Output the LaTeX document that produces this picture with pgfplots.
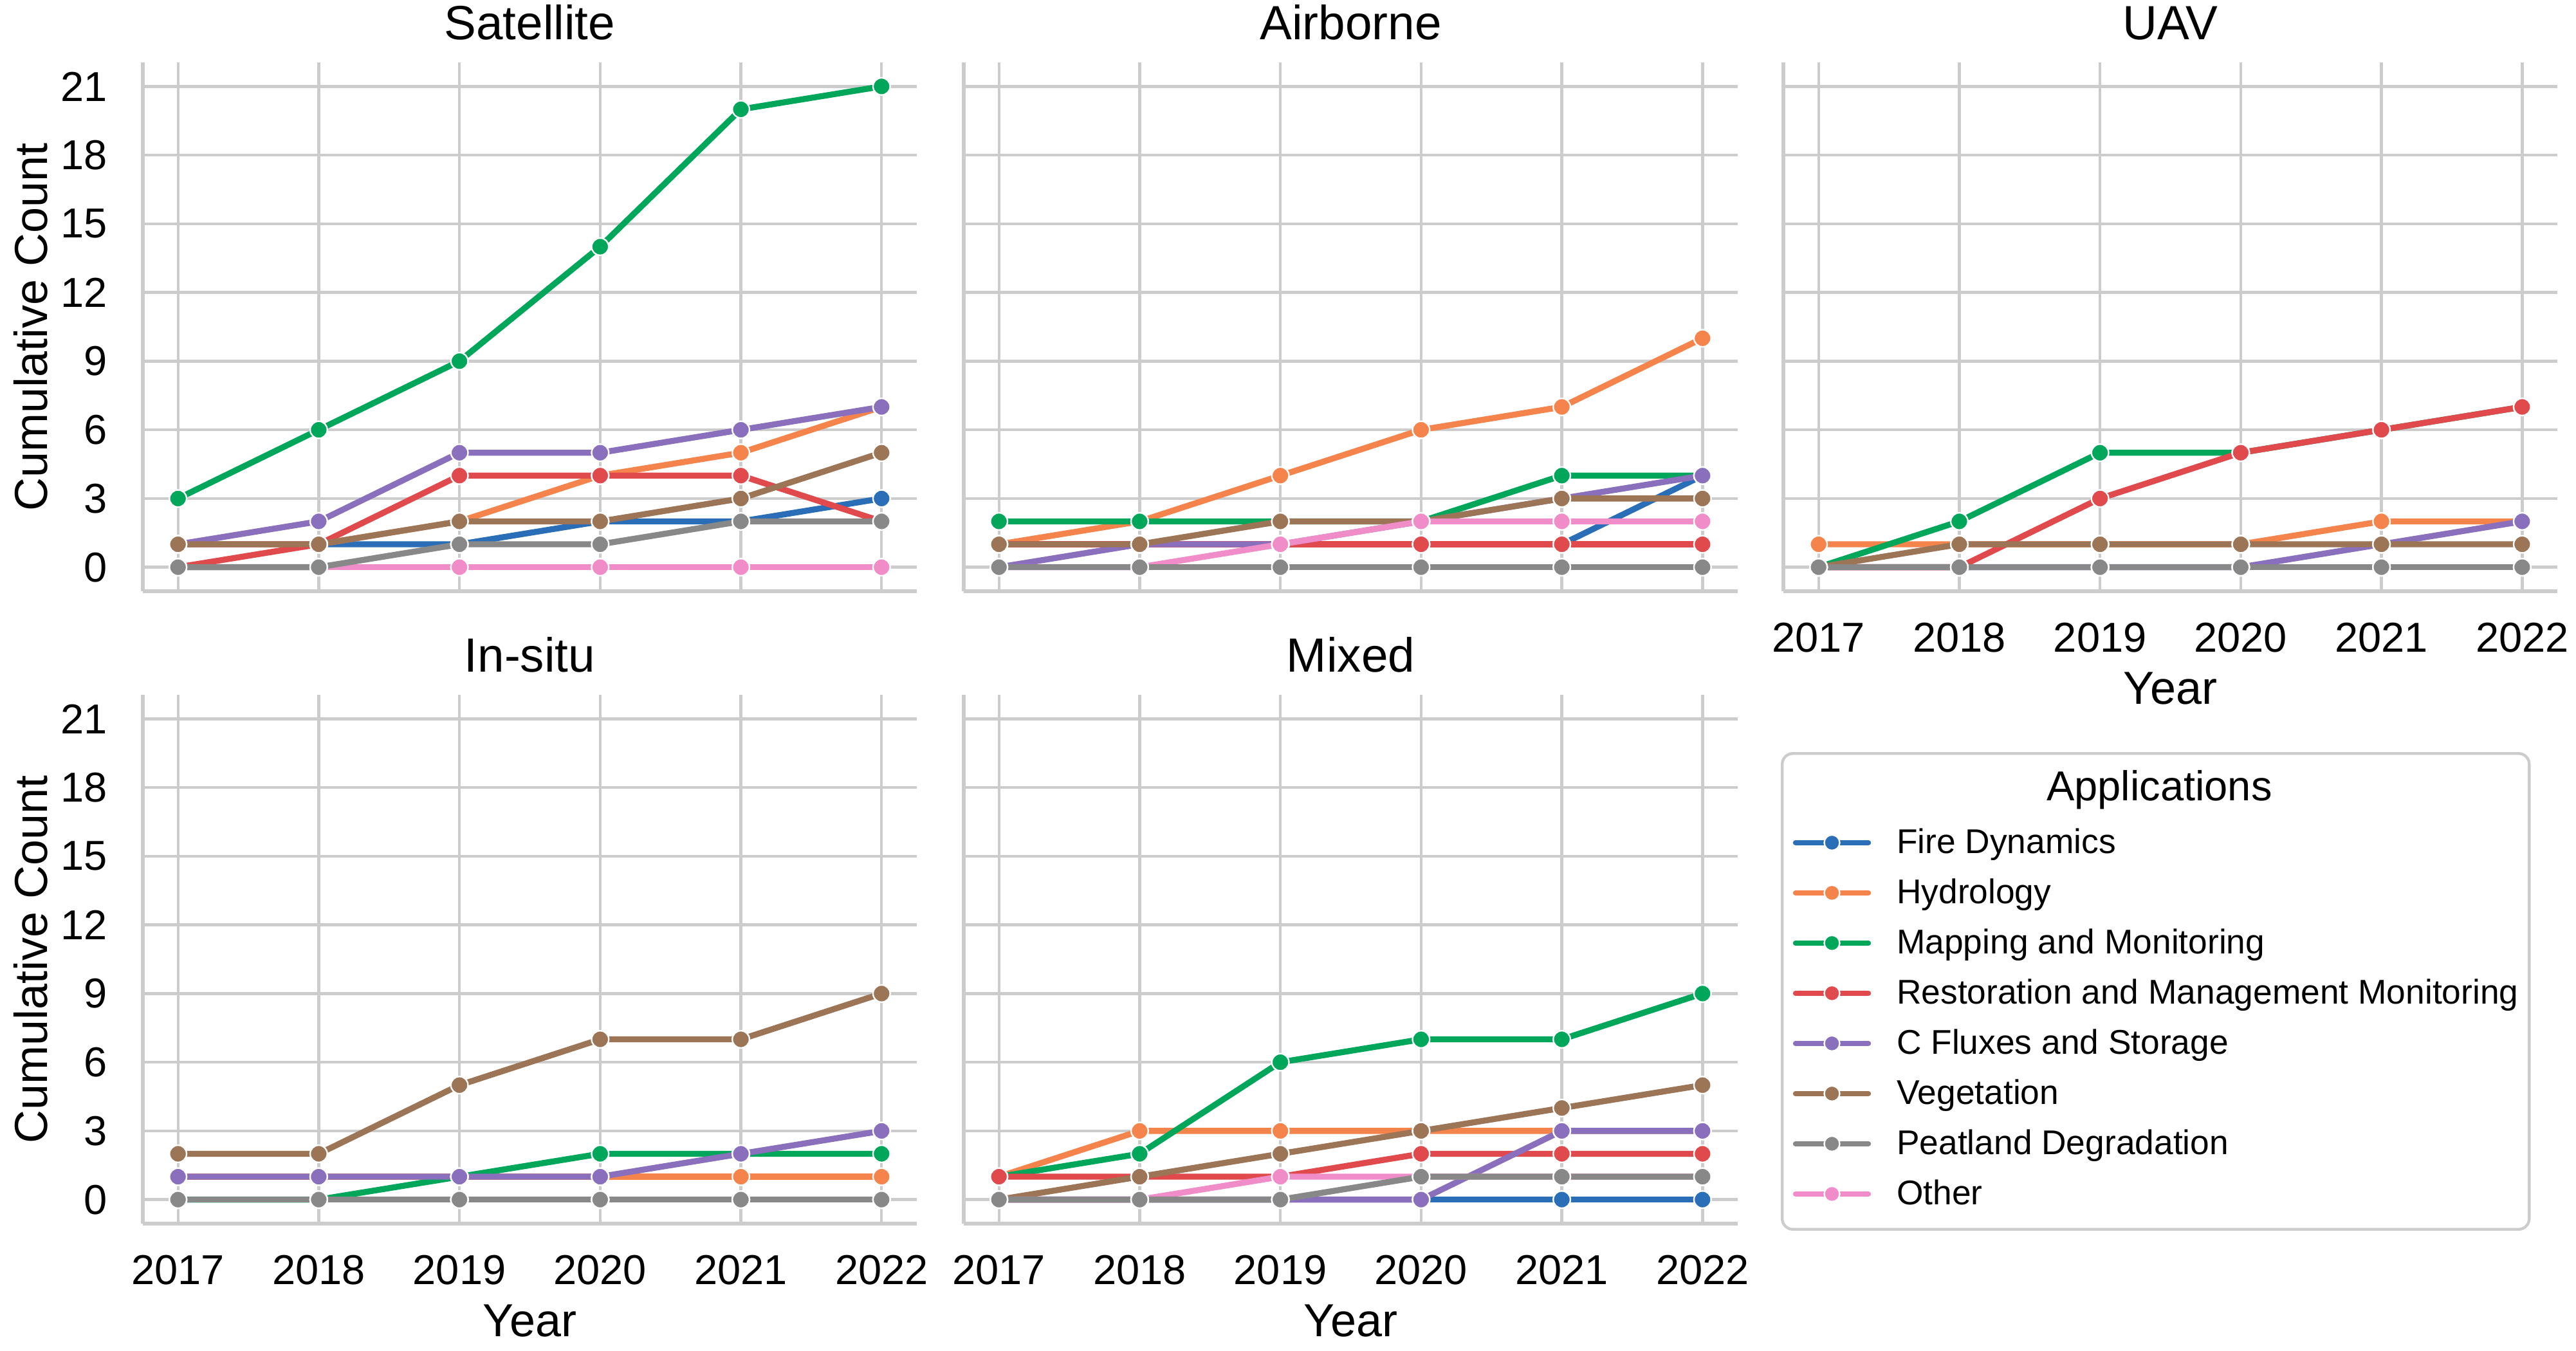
\documentclass[border=0pt]{standalone}
\usepackage{fontspec}
\setmainfont{Liberation Sans}
\usepackage{pgfplots}
\usepackage{pgfplotstable}
\pgfplotsset{compat=1.18}

\definecolor{gridcol}{HTML}{CCCCCC}
\definecolor{cFire}{HTML}{2A6EB8}
\definecolor{cHyd}{HTML}{F5844C}
\definecolor{cMap}{HTML}{00A65A}
\definecolor{cRes}{HTML}{E04A4C}
\definecolor{cCfx}{HTML}{8A6FBD}
\definecolor{cVeg}{HTML}{9C7456}
\definecolor{cPeat}{HTML}{888888}
\definecolor{cOth}{HTML}{F08DC9}

% cumulative counts per platform
\pgfplotstableread{
year fire hyd map res cfx veg peat oth
2017 1 1 3  0 1 1 0 0
2018 1 1 6  1 2 1 0 0
2019 1 2 9  4 5 2 1 0
2020 2 4 14 4 5 2 1 0
2021 2 5 20 4 6 3 2 0
2022 3 7 21 2 7 5 2 0
}\satellite
\pgfplotstableread{
year fire hyd map res cfx veg peat oth
2017 1 1  2 1 0 1 0 0
2018 1 2  2 1 1 1 0 0
2019 1 4  2 1 1 2 0 1
2020 1 6  2 1 2 2 0 2
2021 1 7  4 1 3 3 0 2
2022 4 10 4 1 4 3 0 2
}\airborne
\pgfplotstableread{
year fire hyd map res cfx veg peat oth
2017 0 1 0 0 0 0 0 0
2018 0 1 2 0 0 1 0 0
2019 0 1 5 3 0 1 0 0
2020 0 1 5 5 0 1 0 0
2021 0 2 6 6 1 1 0 0
2022 0 2 7 7 2 1 0 0
}\uav
\pgfplotstableread{
year fire hyd map res cfx veg peat oth
2017 0 1 0 0 1 2 0 0
2018 0 1 0 0 1 2 0 0
2019 0 1 1 0 1 5 0 0
2020 0 1 2 0 1 7 0 0
2021 0 1 2 0 2 7 0 0
2022 0 1 2 0 3 9 0 0
}\insitu
\pgfplotstableread{
year fire hyd map res cfx veg peat oth
2017 0 1 1 1 0 0 0 0
2018 0 3 2 1 0 1 0 0
2019 0 3 6 1 0 2 0 1
2020 0 3 7 2 0 3 1 1
2021 0 3 7 2 3 4 1 1
2022 0 3 9 2 3 5 1 1
}\mixed

\pgfplotsset{
  s/.style={color=#1, line width=2.8pt, line cap=round, line join=round,
    mark=*, mark size=4pt, mark options={solid, fill=#1, draw=white, line width=0.7pt}},
  facet/.style={
    scale only axis, width=360.9pt, height=246.6pt,
    xmin=2016.75, xmax=2022.25, ymin=-1.05, ymax=22.05,
    xtick={2017,2018,...,2022}, ytick={0,3,...,21},
    xmajorgrids, ymajorgrids,
    major grid style={draw=gridcol, line width=1.3pt},
    axis x line*=bottom, axis y line*=left,
    axis line style={draw=gridcol, line width=1.6pt, -},
    major tick length=0pt,
    /pgf/number format/assume math mode=true,
    /pgf/number format/1000 sep={},
    ticklabel style={font=\fontsize{19.5}{23}\selectfont, inner sep=0pt},
    yticklabel style={anchor=east, xshift=-16.5pt},
    xticklabel style={anchor=north, yshift=-14.4pt},
    title style={font=\fontsize{22.4}{26}\selectfont, at={(axis description cs:0.5,1)},
      anchor=base, yshift=4.5pt, inner sep=0pt},
    every axis x label/.style={at={(axis description cs:0.5,0)}, anchor=base,
      yshift=-52.5pt, inner sep=0pt, font=\fontsize{21.6}{25}\selectfont},
    every axis y label/.style={at={([xshift=-44.4pt]axis description cs:0,0.5)},
      rotate=90, anchor=base, inner sep=0pt, font=\fontsize{21.6}{25}\selectfont},
  },
}

\newcommand{\plotall}[1]{%
  \addplot[s=cFire, forget plot] table[x=year, y=fire] {#1};
  \addplot[s=cHyd,  forget plot] table[x=year, y=hyd]  {#1};
  \addplot[s=cMap,  forget plot] table[x=year, y=map]  {#1};
  \addplot[s=cRes,  forget plot] table[x=year, y=res]  {#1};
  \addplot[s=cCfx,  forget plot] table[x=year, y=cfx]  {#1};
  \addplot[s=cVeg,  forget plot] table[x=year, y=veg]  {#1};
  \addplot[s=cOth,  forget plot] table[x=year, y=oth]  {#1};
  \addplot[s=cPeat, forget plot] table[x=year, y=peat] {#1};
}

\newlength{\lw}

\begin{document}
\settowidth{\lw}{\fontsize{16}{19}\selectfont Restoration and Management Monitoring}%
\begin{tikzpicture}
\useasboundingbox (0pt,0pt) rectangle (1201.2pt,629.7pt);

\begin{axis}[facet, at={(66.6pt,354pt)}, anchor=south west,
  title={Satellite}, xticklabels={}, ylabel={Cumulative Count}]
  \plotall{\satellite}
\end{axis}

\begin{axis}[facet, at={(449.4pt,354pt)}, anchor=south west,
  title={Airborne}, xticklabels={}, yticklabels={}]
  \plotall{\airborne}
\end{axis}

\begin{axis}[facet, at={(831.6pt,354pt)}, anchor=south west,
  title={UAV}, yticklabels={}, xlabel={Year}]
  \plotall{\uav}
\end{axis}

\begin{axis}[facet, at={(66.6pt,59.1pt)}, anchor=south west,
  title={In-situ}, ylabel={Cumulative Count}, xlabel={Year}]
  \plotall{\insitu}
\end{axis}

\begin{axis}[facet, at={(449.4pt,59.1pt)}, anchor=south west,
  title={Mixed}, yticklabels={}, xlabel={Year},
  legend cell align=left,
  legend image code/.code={\draw[mark repeat=2, mark phase=2, #1, line width=2.4pt, mark size=3.6pt, yshift=5pt]
    plot coordinates {(0pt,0pt) (17pt,0pt) (34pt,0pt)};},
  legend style={at={(axis description cs:1.0557,0.8917)}, anchor=north west,
    draw=gridcol, line width=1.3pt, rounded corners=5pt, fill=white,
    inner xsep=5pt, inner ysep=8pt, row sep=8.4pt, column sep=12pt,
    font=\fontsize{16}{19}\selectfont,
    nodes={inner sep=0pt, text height=11.5pt, text depth=3.5pt, anchor=base west}}]
  \plotall{\mixed}
  \addlegendimage{empty legend}
  \addlegendentry[text height=14pt, text depth=4.7pt, font=\fontsize{19.5}{23}\selectfont]{\makebox[\lw][c]{\hspace*{-45pt}Applications}}
  \addlegendimage{s=cFire} \addlegendentry{Fire Dynamics}
  \addlegendimage{s=cHyd}  \addlegendentry{Hydrology}
  \addlegendimage{s=cMap}  \addlegendentry{Mapping and Monitoring}
  \addlegendimage{s=cRes}  \addlegendentry{Restoration and Management Monitoring}
  \addlegendimage{s=cCfx}  \addlegendentry{C Fluxes and Storage}
  \addlegendimage{s=cVeg}  \addlegendentry{Vegetation}
  \addlegendimage{s=cPeat} \addlegendentry{Peatland Degradation}
  \addlegendimage{s=cOth}  \addlegendentry{Other}
\end{axis}
\end{tikzpicture}
\end{document}
